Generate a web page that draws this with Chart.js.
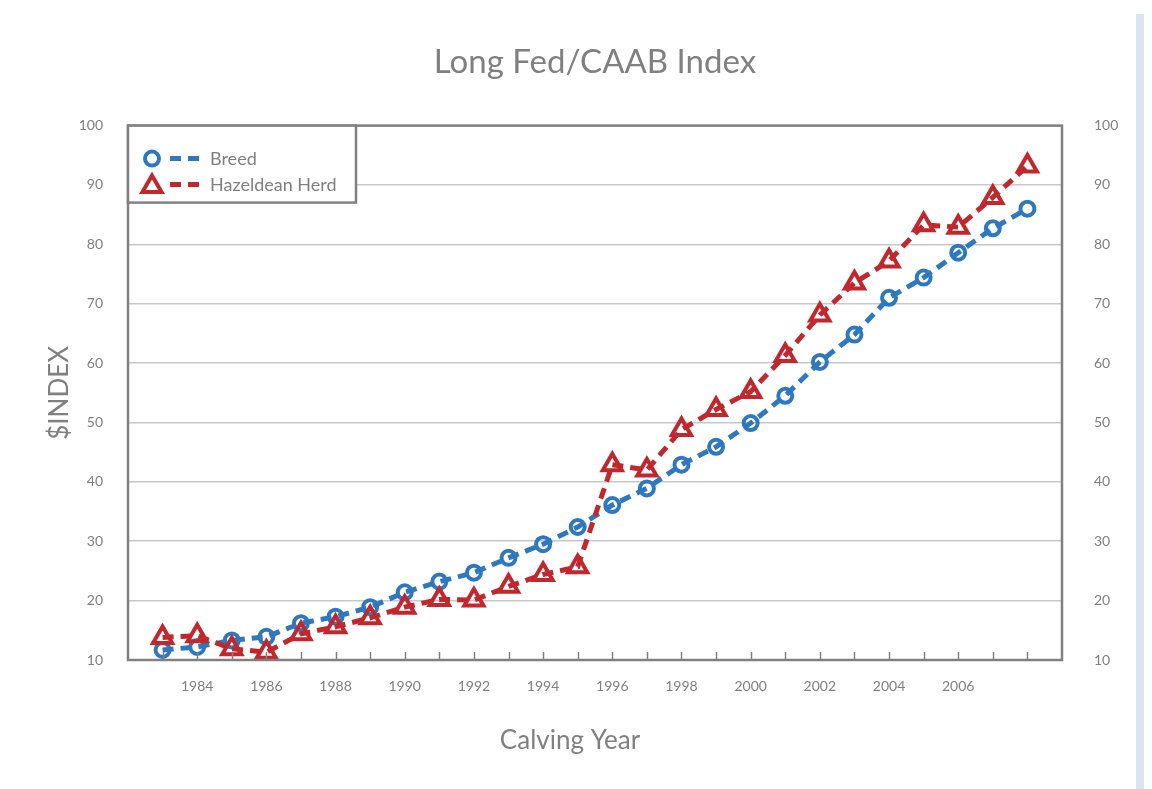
<!DOCTYPE html>
<html>
<head>
<meta charset="utf-8">
<title>Long Fed/CAAB Index</title>
<script src="https://cdn.jsdelivr.net/npm/chart.js@4.4.0/dist/chart.umd.min.js"></script>
<style>
    html, body { margin: 0; padding: 0; background: #fff; }
    #wrap { position: absolute; left: 0; top: 0; width: 1130px; height: 789px; }
    #sidebar { position: absolute; left: 1136px; top: 14px; width: 8px; height: 775px; background: #dce4f0; }
</style>
</head>
<body>
<div id="wrap"><canvas id="indexChart"></canvas></div>
<div id="sidebar"></div>
<script>
const years = [1983, 1984, 1985, 1986, 1987, 1988, 1989, 1990, 1991, 1992, 1993, 1994, 1995,
               1996, 1997, 1998, 1999, 2000, 2001, 2002, 2003, 2004, 2005, 2006, 2007, 2008];
const breed = [11.7, 12.2, 13.3, 13.9, 16.2, 17.3, 18.9, 21.4, 23.2, 24.7, 27.2, 29.5, 32.4,
               36.1, 38.9, 42.9, 45.9, 49.9, 54.5, 60.2, 64.8, 71.0, 74.4, 78.6, 82.7, 86.0];
const herd = [13.8, 14.1, 11.9, 11.3, 14.4, 15.6, 17.1, 18.9, 20.2, 20.1, 22.4, 24.4, 25.7,
              42.9, 42.0, 48.8, 52.2, 55.2, 61.3, 68.1, 73.5, 77.2, 83.3, 82.9, 87.9, 93.2];
const xTickLabels = [1984, 1986, 1988, 1990, 1992, 1994, 1996, 1998, 2000, 2002, 2004, 2006];
const yTicks = [10, 20, 30, 40, 50, 60, 70, 80, 90, 100];

const BLUE = '#2e78c2';
const RED = '#c1272d';
const GREY = '#808080';
const FONT = "Lato, 'Open Sans', sans-serif";

// frame, inner tick marks, axis title and legend box
const decorations = {
    id: 'decorations',
    afterDatasetsDraw(chart) {
        const { ctx, chartArea: a, scales: { x } } = chart;
        ctx.save();

        ctx.strokeStyle = GREY;
        ctx.lineWidth = 1.5;
        x.ticks.forEach(t => {
            const px = Math.round(x.getPixelForValue(t.value)) + 0.5;
            ctx.beginPath();
            ctx.moveTo(px, a.bottom);
            ctx.lineTo(px, a.bottom - 8);
            ctx.stroke();
        });

        ctx.lineWidth = 2.5;
        ctx.strokeRect(a.left, a.top, a.right - a.left, a.bottom - a.top);

        ctx.fillStyle = GREY;
        ctx.font = `26px ${FONT}`;
        ctx.textAlign = 'center';
        ctx.textBaseline = 'middle';
        ctx.fillText('Calving Year', 570, 741);

        // legend
        const lx = a.left, ly = a.top;
        ctx.fillStyle = '#fff';
        ctx.fillRect(lx, ly, 228, 77);
        ctx.strokeRect(lx, ly, 228, 77);

        chart.data.datasets.forEach((ds, i) => {
            const cy = ly + 33 + i * 26;
            ctx.save();
            ctx.strokeStyle = ds.borderColor;
            ctx.lineWidth = ds.borderWidth;
            ctx.setLineDash(ds.borderDash);
            ctx.beginPath();
            ctx.moveTo(lx + 42, cy);
            ctx.lineTo(lx + 72, cy);
            ctx.stroke();
            ctx.setLineDash([]);
            ctx.lineWidth = ds.pointBorderWidth;
            ctx.beginPath();
            const mx = lx + 24;
            if (ds.pointStyle === 'triangle') {
                const r = ds.pointRadius;
                const my = cy + 2;
                ctx.moveTo(mx, my - r);
                ctx.lineTo(mx + r * 0.866, my + r / 2);
                ctx.lineTo(mx - r * 0.866, my + r / 2);
                ctx.closePath();
            } else {
                ctx.arc(mx, cy, ds.pointRadius, 0, Math.PI * 2);
            }
            ctx.stroke();
            ctx.restore();

            ctx.fillStyle = GREY;
            ctx.font = `18px ${FONT}`;
            ctx.textAlign = 'left';
            ctx.fillText(ds.label, lx + 82, cy + 1);
        });
        ctx.restore();
    }
};

const ctx = document.getElementById('indexChart').getContext('2d');
new Chart(ctx, {
    type: 'line',
    data: {
        datasets: [
            {
                label: 'Breed',
                data: years.map((y, i) => ({ x: y, y: breed[i] })),
                borderColor: BLUE,
                borderWidth: 5,
                borderDash: [11, 7],
                pointStyle: 'circle',
                pointRadius: 7,
                pointBorderWidth: 4,
                pointBorderColor: BLUE,
                pointBackgroundColor: 'rgba(0,0,0,0)',
                tension: 0,
                order: 1
            },
            {
                label: 'Hazeldean Herd',
                data: years.map((y, i) => ({ x: y, y: herd[i] })),
                borderColor: RED,
                borderWidth: 5,
                borderDash: [11, 7],
                pointStyle: 'triangle',
                pointRadius: 11,
                pointBorderWidth: 4,
                pointBorderColor: RED,
                pointBackgroundColor: 'rgba(0,0,0,0)',
                tension: 0,
                order: 0
            }
        ]
    },
    options: {
        responsive: true,
        maintainAspectRatio: false,
        animation: false,
        layout: { padding: 0 },
        scales: {
            x: {
                type: 'linear',
                min: 1982,
                max: 2009,
                afterFit: s => { s.height = 129; },
                afterBuildTicks: s => { s.ticks = years.map(v => ({ value: v })); },
                grid: { display: false },
                border: { display: false },
                ticks: {
                    autoSkip: false,
                    maxRotation: 0,
                    padding: 10,
                    color: GREY,
                    font: { family: FONT, size: 14 },
                    callback: v => xTickLabels.includes(v) ? String(v) : ''
                }
            },
            y: {
                position: 'left',
                min: 10,
                max: 100,
                afterFit: s => { s.width = 128; },
                afterBuildTicks: s => { s.ticks = yTicks.map(v => ({ value: v })); },
                grid: { color: '#c8c8c8', lineWidth: 1.5, drawTicks: false },
                border: { display: false },
                ticks: { padding: 25, color: GREY, font: { family: FONT, size: 14 } },
                title: {
                    display: true,
                    text: '$INDEX',
                    color: GREY,
                    font: { family: FONT, size: 26 },
                    padding: { top: 44, bottom: 0 }
                }
            },
            y2: {
                position: 'right',
                min: 10,
                max: 100,
                afterFit: s => { s.width = 68; },
                afterBuildTicks: s => { s.ticks = yTicks.map(v => ({ value: v })); },
                grid: { display: false },
                border: { display: false },
                ticks: { padding: 24, color: GREY, font: { family: FONT, size: 14 } }
            }
        },
        plugins: {
            legend: { display: false },
            tooltip: { enabled: false },
            title: {
                display: true,
                fullSize: false,
                text: 'Long Fed/CAAB Index',
                color: GREY,
                font: { family: FONT, size: 33, weight: 'normal' },
                padding: { top: 43, bottom: 43 }
            }
        }
    },
    plugins: [decorations]
});
</script>
</body>
</html>
